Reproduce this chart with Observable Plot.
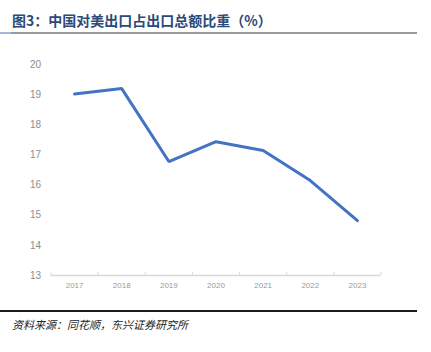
<!DOCTYPE html>
<html>
<head>
<meta charset="utf-8">
<script src="https://cdn.jsdelivr.net/npm/d3@7"></script>
<script src="https://cdn.jsdelivr.net/npm/@observablehq/plot@0.6"></script>
<style>
  html, body { margin: 0; padding: 0; background: #fff; width: 431px; height: 352px; overflow: hidden; position: relative; }
  #title { position: absolute; left: 12px; top: 10px; font: bold 14px "Noto Sans CJK SC", sans-serif; color: #2c4a78; white-space: nowrap; }
  #tline { position: absolute; left: 0; top: 32px; width: 417px; height: 2px; background: #9a9a9a; }
  #tline2 { position: absolute; left: 0; top: 32px; width: 11px; height: 2px; background: #9fbbd9; }
  #chart { position: absolute; left: 0; top: 50px; }
  #fline { position: absolute; left: 0; top: 310px; width: 417px; height: 1.5px; background: #1a1a1a; }
  #source { position: absolute; left: 12px; top: 316px; font: italic 11px "Noto Sans CJK SC", sans-serif; color: #222; white-space: nowrap; }
</style>
</head>
<body>
<div id="title">图3：中国对美出口占出口总额比重（%）</div>
<div id="tline"></div><div id="tline2"></div>
<div id="chart"></div>
<div id="fline"></div>
<div id="source">资料来源：同花顺，东兴证券研究所</div>
<script>
const years = [2017, 2018, 2019, 2020, 2021, 2022, 2023];
const share = [19.02, 19.2, 16.78, 17.44, 17.15, 16.15, 14.82];
const yTicks = [13, 14, 15, 16, 17, 18, 19, 20];

const data = years.map((y, i) => ({year: y, value: share[i]}));
const bounds = [...years.map(y => y - 0.5), years[years.length - 1] + 0.5];

const chart = Plot.plot({
  width: 431,
  height: 245,
  marginLeft: 50.5,
  marginRight: 50.5,
  marginTop: 14,
  marginBottom: 20,
  style: {background: "transparent"},
  x: {domain: [years[0] - 0.5, years[years.length - 1] + 0.5]},
  y: {domain: [13, 20]},
  marks: [
    Plot.axisY({ticks: yTicks, tickSize: 0, tickPadding: 10, tickFormat: d => String(d), fontSize: 10, color: "#8c8c8c", label: null, fontFamily: "Liberation Sans, Arial, sans-serif"}),
    Plot.axisX({ticks: years, tickSize: 0, tickPadding: 7, tickFormat: d => String(d), fontSize: 8, color: "#9a9a9a", label: null, fontFamily: "Liberation Sans, Arial, sans-serif"}),
    Plot.ruleY([13], {stroke: "#d9d9d9", strokeWidth: 1.5}),
    Plot.ruleX(bounds, {x: d => d, y1: 13, y2: 13.1, stroke: "#d9d9d9", strokeWidth: 1}),
    Plot.line(data, {x: "year", y: "value", stroke: "#4472c4", strokeWidth: 3, strokeLinejoin: "miter"})
  ]
});
document.getElementById("chart").appendChild(chart);
</script>
</body>
</html>
